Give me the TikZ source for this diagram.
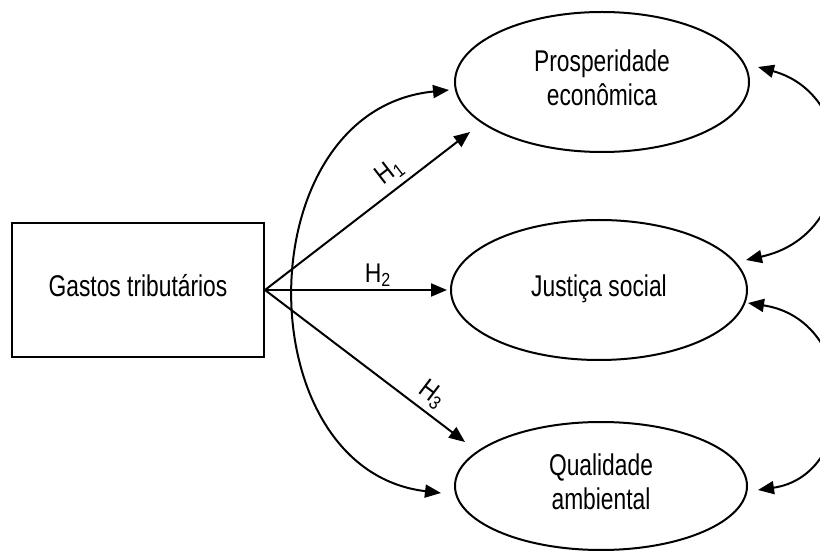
\documentclass[tikz,border=0pt]{standalone}
\usepackage{fontspec}
\setmainfont{Liberation Sans}
\usetikzlibrary{arrows.meta,shapes.geometric,calc}
\newcommand{\lbl}[1]{\scalebox{0.76}[1]{\fontsize{30}{34}\selectfont\begin{tabular}{@{}c@{}}#1\end{tabular}}}
\newcommand{\hlab}[1]{\scalebox{0.85}[1]{#1}}
\begin{document}
\begin{tikzpicture}[x=1pt,y=1pt, line width=2pt,
  arr/.style={-{Triangle[length=16pt,width=13pt]}},
  dbl/.style={{Triangle[length=16pt,width=13pt]}-{Triangle[length=16pt,width=13pt]}},
  ell/.style={draw, ellipse, inner sep=0pt},
  hl/.style={font=\fontsize{27}{30}\selectfont, sloped, above, inner sep=5pt}]
\clip (0,0) rectangle (820,-553);
\node[draw, rectangle, minimum width=252pt, minimum height=134pt, inner sep=0pt] (g) at (138,-290) {\lbl{Gastos tributários}};
\node[ell, minimum width=294pt, minimum height=140pt] (p) at (602,-82) {\lbl{Prosperidade\\econômica}};
\node[ell, minimum width=296pt, minimum height=140pt] (j) at (599,-290) {\lbl{Justiça social}};
\node[ell, minimum width=292pt, minimum height=128pt] (q) at (601,-486) {\lbl{Qualidade\\ambiental}};
\draw[arr] (g.east) -- node[hl, pos=0.66] (h1) {\hlab{H\textsubscript{1}}} ([shift={(-132,-50)}]p.center);
\draw[arr] (g.east) -- node[hl, pos=0.62, inner sep=2pt] (h2) {\hlab{H\textsubscript{2}}} ([xshift=-3pt]g.east -| j.west);
\draw[arr] (g.east) -- node[hl, pos=0.78] (h3) {\hlab{H\textsubscript{3}}} ([shift={(-136,44)}]q.center);
\draw[dbl] ([shift={(-5,-8)}]p.west) .. controls (245,-110) and (245,-470) .. ([shift={(-13,-7)}]q.west);
\draw[dbl] ([shift={(8,15)}]p.east) .. controls (860,-95) and (860,-235) .. ([shift={(-2,30)}]j.east);
\draw[dbl] ([shift={(0,-13)}]j.east) .. controls (860,-320) and (860,-475) .. ([shift={(10,-4)}]q.east);
\end{tikzpicture}
\end{document}
